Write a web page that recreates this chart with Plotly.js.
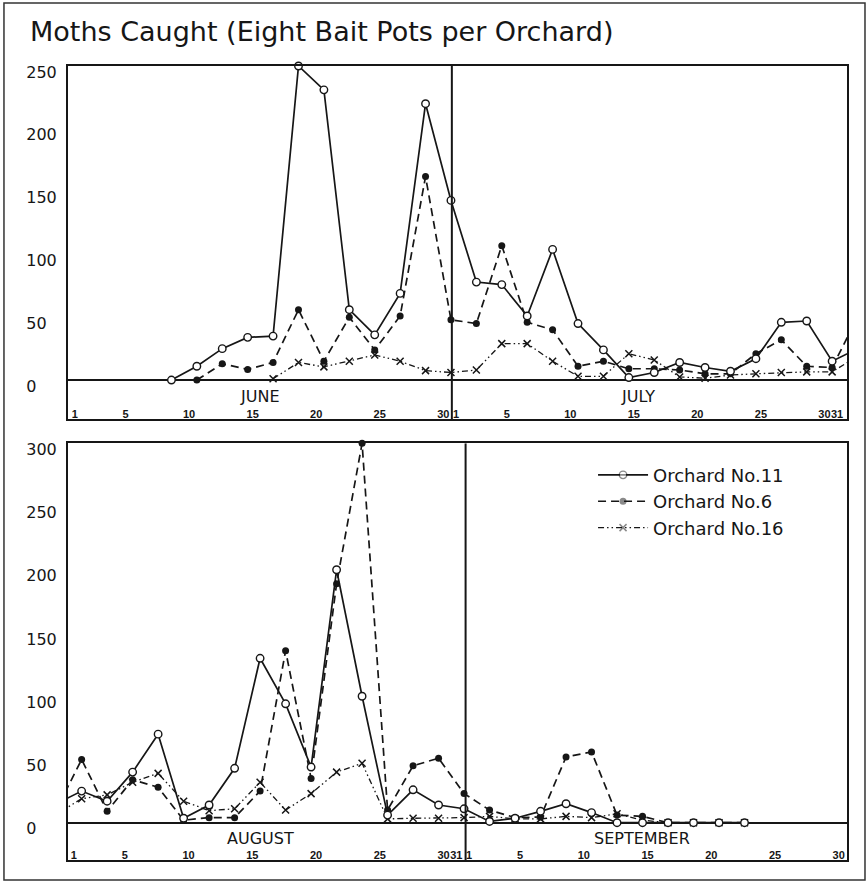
<!DOCTYPE html>
<html>
<head>
<meta charset="utf-8">
<script src="https://cdn.plot.ly/plotly-3.0.1.min.js"></script>
<style>
html,body{margin:0;padding:0;background:#ffffff;}
#chart{width:868px;height:884px;}
</style>
</head>
<body>
<div id="chart"></div>
<script>
// Sampling dates (every second day), month-day
const sampleDates = [
  '06-09','06-11','06-13','06-15','06-17','06-19','06-21','06-23','06-25','06-27','06-29',
  '07-01','07-03','07-05','07-07','07-09','07-11','07-13','07-15','07-17','07-19','07-21','07-23','07-25','07-27','07-29','07-31',
  '08-02','08-04','08-06','08-08','08-10','08-12','08-14','08-16','08-18','08-20','08-22','08-24','08-26','08-28','08-30',
  '09-01','09-03','09-05','09-07','09-09','09-11','09-13','09-15','09-17','09-19','09-21','09-23'
];
// Moths caught per orchard
const orchard11 = [
  0,11,25,34,35,250,231,56,36,69,220,
  143,78,76,51,104,45,24,2,6,14,10,7,17,46,47,15,
  25,17,40,70,3.5,14,43,130,94,44,200,100,6,26,14,
  11,1,3.5,9,15,8,0,0,0,0,0,0
];
const orchard6 = [
  null,0,13,8.5,14,56,15,50,24,51,162,
  48,45,107,46,40,11,15,9,9,8,5,5,21,32,11,10,
  50,9,34,28,2,4,4,25,136,35,189,300,10,45,51,
  23,10,4,4.5,52,56,6,5,0,0,0,0
];
const orchard16 = [
  null,null,null,null,1,14,10.5,15,20,15,7.5,
  6,8,29,29,15,3,3,21,16,2.5,1.5,4,5,6,6.5,6.5,
  19,22,32,39,17,9.5,11,32,10,23,40,47,3,3.5,3.5,
  4,5,3,3,5,4,7,2,0,0,0,0
];
const seriesNames = ['Orchard No.11','Orchard No.6','Orchard No.16'];
const monthLabels = ['JUNE','JULY','AUGUST','SEPTEMBER'];
const titleText = 'Moths Caught (Eight Bait Pots per Orchard)';

// day ticks (day position within each two-month panel)
const topTickVals = [1,5,10,15,20,25,30,31,35,40,45,50,55,60,61];
const topTickText = ['1','5','10','15','20','25','30','1','5','10','15','20','25','30','31'];
const botTickVals = [1,5,10,15,20,25,30,31,32,36,41,46,51,56,61];
const botTickText = ['1','5','10','15','20','25','30','31','1','5','10','15','20','25','30'];
const topYTicks = [0,50,100,150,200,250];
const botYTicks = [0,50,100,150,200,250,300];

// ---- build ----
const FONT = 'DejaVu Sans, Verdana, sans-serif';
const DAYFONT = 'Liberation Sans, Arial, sans-serif';
const INK = '#161616';
const monthOffset = {6:0, 7:30, 8:61, 9:92};
const parsed = sampleDates.map(s => s.split('-').map(Number));
const topIdx = parsed.map(([m,d]) => monthOffset[m] + d);      // days since May 31
const botIdx = topIdx.map(v => v - 61);                          // days since July 31
const inTop = parsed.map(([m]) => m === 6 || m === 7);
const inBot = parsed.map(([m]) => m === 8 || m === 9);

const styles = [
  {line:{color:INK,width:1.7,dash:'solid'},
   marker:{symbol:'circle',size:7.5,color:'#ffffff',line:{color:INK,width:1.4}}},
  {line:{color:INK,width:1.7,dash:'8px,5px'},
   marker:{symbol:'circle',size:7,color:INK,line:{color:INK,width:0}}},
  {line:{color:INK,width:1.3,dash:'6px,3px,1.5px,3px,1.5px,3px'},
   marker:{symbol:'x-thin',size:7,color:INK,line:{color:INK,width:1.5}}}
];
const values = [orchard11, orchard6, orchard16];
const drawOrder = [2,1,0];
const traces = [];
[['x','y',topIdx,inTop,true],['x2','y2',botIdx,inBot,false]].forEach(([xa,ya,idx,vis,leg]) => {
  drawOrder.forEach(k => {
    const st = styles[k];
    traces.push({
      type:'scatter', mode:'lines+markers',
      x: idx, y: values[k], xaxis: xa, yaxis: ya,
      name: seriesNames[k], legendgroup: 'g'+k, showlegend: leg, legendrank: k+1,
      line: st.line,
      marker: Object.assign({}, st.marker, {opacity: vis.map(v => v ? 1 : 0)}),
      cliponaxis: false, connectgaps: false, hoverinfo: 'skip'
    });
  });
});

function pad(ticks){
  const w = Math.max(...ticks.map(t => String(t).length));
  return ticks.map(t => String(t) + '\u2007'.repeat(w - String(t).length));
}

const xCommon = {
  showline:true, mirror:true, linewidth:2, linecolor:INK,
  showgrid:false, zeroline:false, ticks:'', tickmode:'array', tickangle:0,
  ticklabelposition:'outside', ticklabelstandoff:-16, ticklabelshift:5,
  tickfont:{family:DAYFONT, size:11, color:INK, weight:'bold'}
};
const yCommon = {
  showline:true, mirror:true, linewidth:2, linecolor:INK,
  showgrid:false, zeroline:true, zerolinecolor:INK, zerolinewidth:2,
  ticks:'', tickmode:'array', ticklabelshift:6, ticklabelstandoff:6,
  tickfont:{family:FONT, size:16, color:INK}
};

const monthFont = {family:FONT, size:16, color:INK};
const layout = {
  width:868, height:884, autosize:false,
  paper_bgcolor:'#ffffff', plot_bgcolor:'#ffffff',
  margin:{l:68, r:21, t:66, b:24},
  title:{text:titleText, font:{family:FONT, size:27, color:INK},
         x:30/868, xref:'container', xanchor:'left',
         y:1-32/884, yref:'container', yanchor:'middle'},
  showlegend:true,
  legend:{x:0.674, y:0.508, xanchor:'left', yanchor:'top',
          font:{family:FONT, size:18, color:INK}, bgcolor:'rgba(0,0,0,0)',
          itemwidth:50, tracegroupgap:0, traceorder:'normal'},
  xaxis: Object.assign({}, xCommon, {domain:[0,1], anchor:'y', range:[0.86,62.17],
          tickvals:topTickVals, ticktext:topTickText}),
  yaxis: Object.assign({}, yCommon, {domain:[0.5554,1], anchor:'x', range:[-31,250],
          tickvals:topYTicks, ticktext:pad(topYTicks)}),
  xaxis2: Object.assign({}, xCommon, {domain:[0,1], anchor:'y2', range:[0.93,62.04],
          tickvals:botTickVals, ticktext:botTickText}),
  yaxis2: Object.assign({}, yCommon, {domain:[0,0.5248], anchor:'x2', range:[-29.5,300],
          tickvals:botYTicks, ticktext:pad(botYTicks)}),
  shapes:[
    {type:'line', xref:'x', yref:'y', x0:31.07, x1:31.07, y0:-31, y1:250, line:{color:INK,width:2}},
    {type:'line', xref:'x2', yref:'y2', x0:32.12, x1:32.12, y0:-29.5, y1:300, line:{color:INK,width:2}},
    {type:'rect', xref:'paper', yref:'paper', x0:-0.0822, x1:1.0231, y0:-0.0252, y1:1.0793,
     line:{color:'#333',width:1.5}, fillcolor:'rgba(0,0,0,0)', layer:'below'}
  ],
  annotations:[
    {text:monthLabels[0], xref:'x', yref:'y', x:16.0, y:-12.8, showarrow:false, font:monthFont, borderpad:0},
    {text:monthLabels[1], xref:'x', yref:'y', x:45.7, y:-12.8, showarrow:false, font:monthFont, borderpad:0},
    {text:monthLabels[2], xref:'x2', yref:'y2', x:16.0, y:-12.2, showarrow:false, font:monthFont, borderpad:0},
    {text:monthLabels[3], xref:'x2', yref:'y2', x:45.95, y:-12.2, showarrow:false, font:monthFont, borderpad:0}
  ]
};

Plotly.newPlot('chart', traces, layout, {staticPlot:true, displayModeBar:false});
</script>
</body>
</html>
